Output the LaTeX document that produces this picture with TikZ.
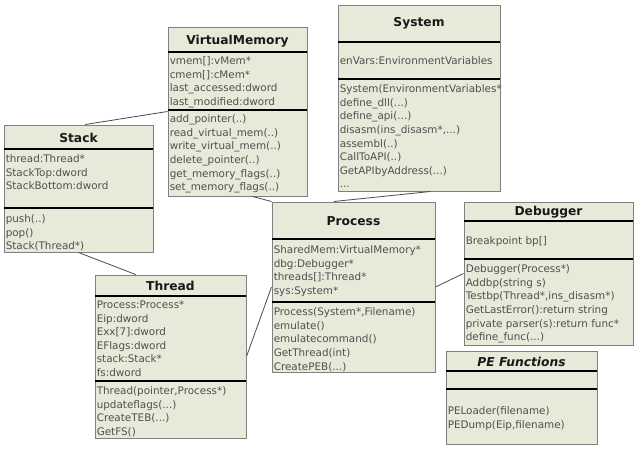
\documentclass[tikz,border=0pt]{standalone}
\usepackage{fontspec}
\setmainfont{DejaVu Sans}
\usetikzlibrary{fit}
\definecolor{clsfill}{RGB}{231,233,217}
\definecolor{clsline}{RGB}{128,128,128}
\definecolor{memtext}{RGB}{80,80,80}
\tikzset{cls/.style={draw=clsline,fill=clsfill,inner sep=0pt,line width=0.75pt},ttl/.style={font=\fontsize{9.2}{11}\selectfont\bfseries,text=black!90},
mem/.style={anchor=north west,align=left,inner sep=0pt,text=memtext,font=\fontsize{7.8}{10.2}\selectfont},sep/.style={line width=1.1pt,black},lnk/.style={draw=black!70,line width=0.6pt}}
\begin{document}
\begin{tikzpicture}[x=0.75pt,y=-0.75pt]
\useasboundingbox[fill=white](0,0)rectangle(640,450);
\node[cls,fit={(168,27)(307,196)}](vm){};\node[ttl]at(237.5,41){VirtualMemory};
\draw[sep](168,52)--(307,52);\draw[sep](168,110)--(307,110);
\node[mem]at(169.5,56.5){vmem[]:vMem*\\cmem[]:cMem*\\last\_accessed:dword\\last\_modified:dword};
\node[mem]at(169.5,114.5){add\_pointer(..)\\read\_virtual\_mem(..)\\write\_virtual\_mem(..)\\delete\_pointer(..)\\get\_memory\_flags(..)\\set\_memory\_flags(..)};
\node[cls,fit={(338,5)(500,191)}](sys){};\node[ttl]at(419,23){System};
\draw[sep](338,42)--(500,42);\draw[sep](338,79)--(500,79);
\node[mem]at(339.5,56.5){enVars:EnvironmentVariables};
\node[mem]at(339.5,84.5){System(EnvironmentVariables*\\define\_dll(...)\\define\_api(...)\\disasm(ins\_disasm*,...)\\assembl(..)\\CallToAPI(..)\\GetAPIbyAddress(...)\\...};
\node[cls,fit={(4,125)(153,252)}](stack){};\node[ttl]at(78.5,138){Stack};
\draw[sep](4,149)--(153,149);\draw[sep](4,208)--(153,208);
\node[mem]at(5.5,154.5){thread:Thread*\\StackTop:dword\\StackBottom:dword};
\node[mem]at(5.5,214.5){push(..)\\pop()\\Stack(Thread*)};
\node[cls,fit={(272,202)(435,372)}](proc){};\node[ttl]at(353.5,221){Process};
\draw[sep](272,239)--(435,239);\draw[sep](272,302)--(435,302);
\node[mem]at(273.5,245.5){SharedMem:VirtualMemory*\\dbg:Debugger*\\threads[]:Thread*\\sys:System*};
\node[mem]at(273.5,307.5){Process(System*,Filename)\\emulate()\\emulatecommand()\\GetThread(int)\\CreatePEB(...)};
\node[cls,fit={(464,202)(633,345)}](dbg){};\node[ttl]at(548.5,212){Debugger};
\draw[sep](464,221)--(633,221);\draw[sep](464,259)--(633,259);
\node[mem]at(465.5,236.5){Breakpoint bp[]};
\node[mem]at(465.5,264.5){Debugger(Process*)\\Addbp(string s)\\Testbp(Thread*,ins\_disasm*)\\GetLastError():return string\\private parser(s):return func*\\define\_func(...)};
\node[cls,fit={(95,275)(246,438)}](thread){};\node[ttl]at(170.5,286){Thread};
\draw[sep](95,296)--(246,296);\draw[sep](95,381)--(246,381);
\node[mem]at(96.5,300.5){Process:Process*\\Eip:dword\\Exx[7]:dword\\EFlags:dword\\stack:Stack*\\fs:dword};
\node[mem]at(96.5,386.5){Thread(pointer,Process*)\\updateflags(...)\\CreateTEB(...)\\GetFS()};
\node[cls,fit={(446,351)(597,444)}](pe){};\node[ttl,font=\fontsize{9.2}{11}\selectfont\bfseries\itshape]at(521.5,362){PE Functions};
\draw[sep](446,371)--(597,371);\draw[sep](446,389)--(597,389);
\node[mem]at(447.5,406.5){PELoader(filename)\\PEDump(Eip,filename)};
\foreach\a/\b in{stack.84/vm.west,vm.280/proc.north west,sys.277/proc.103,stack.south/thread.113,thread.east/proc.west,proc.east/dbg.west}\draw[lnk](\a)--(\b);
\end{tikzpicture}
\end{document}
